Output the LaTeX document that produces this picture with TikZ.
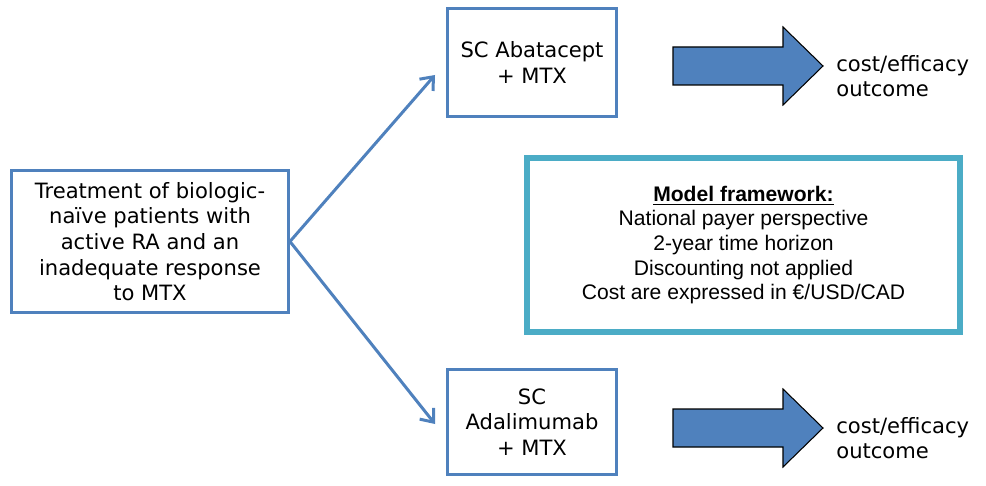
\documentclass[tikz,border=0pt]{standalone}
\usepackage{fontspec}
\setmainfont{DejaVu Sans}
\newfontfamily\arialfont{Liberation Sans}
\usetikzlibrary{arrows.meta}
\definecolor{boxblue}{HTML}{4F81BD}
\definecolor{frameteal}{HTML}{4BACC6}
\begin{document}
\begin{tikzpicture}[x=0.02cm,y=-0.02cm,
        treatbox/.style={draw=boxblue,line width=0.06cm,fill=white,align=center,
            font=\fontsize{12}{14.6}\selectfont,inner sep=0pt},
        framebox/.style={draw=frameteal,line width=0.12cm,align=center,
            font=\arialfont\fontsize{12}{14}\selectfont,inner sep=0pt,
            minimum width=8.66cm,minimum height=3.48cm},
        link/.style={draw=boxblue,line width=0.06cm,
            -{Straight Barb[length=0.22cm,width=0.36cm,line width=0.06cm]}},
        fatarrow/.style={draw=black,line width=0.6pt,fill=boxblue},
        outcome/.style={align=left,anchor=west,inner sep=0pt,
            font=\fontsize{12}{14.6}\selectfont}]
        \useasboundingbox (0,0) rectangle (986,486);

        \node[treatbox,minimum width=5.54cm,minimum height=2.86cm] (start) at (150,241.5)
            {Treatment of biologic-\\na\"ive patients with\\active RA and an\\inadequate response\\to MTX};
        \node[treatbox,minimum width=3.4cm,minimum height=2.18cm] (abat) at (532,62.5)
            {SC Abatacept\\+ MTX};
        \node[treatbox,minimum width=3.4cm,minimum height=2.12cm] (adal) at (532,422)
            {SC\\Adalimumab\\+ MTX};

        \coordinate (abatin) at (435,75);
        \coordinate (adalin) at (435,424);
        \path[link] (start.east) -- (abatin);
        \path[link] (start.east) -- (adalin);

        % block arrows
        \path[fatarrow] (673,47) -- (783,47) -- (783,27) -- (823,66) -- (783,105) -- (783,85) -- (673,85) -- cycle;
        \path[fatarrow] (673,409) -- (783,409) -- (783,389) -- (823,428) -- (783,467) -- (783,447) -- (673,447) -- cycle;

        \node[outcome] (outA) at (836,76) {cost/efficacy\\outcome};
        \node[outcome] (outB) at (836,438) {cost/efficacy\\outcome};

        \node[framebox] (model) at (743.5,245)
            {\textbf{\underline{Model framework:}}\\National payer perspective\\2-year time horizon\\Discounting not applied\\Cost are expressed in €/USD/CAD};
    \end{tikzpicture}
\end{document}
